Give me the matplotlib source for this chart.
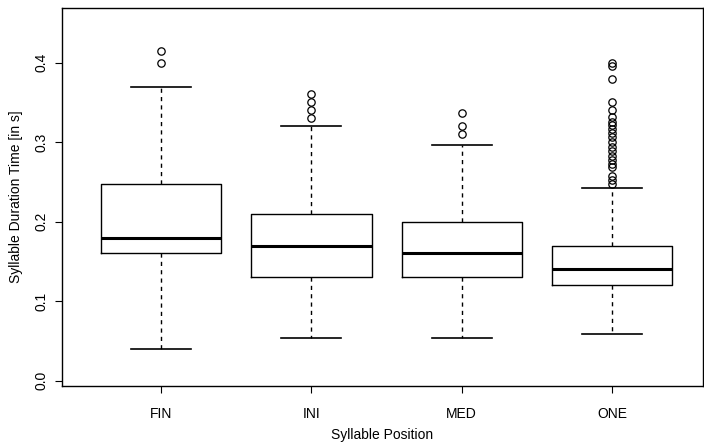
import matplotlib
matplotlib.use("Agg")
import matplotlib.pyplot as plt

# Summary statistics per syllable position (seconds)
positions = ["FIN", "INI", "MED", "ONE"]
q1 = [0.16, 0.13, 0.13, 0.12]
medians = [0.18, 0.17, 0.16, 0.14]
q3 = [0.248, 0.21, 0.20, 0.17]
whisker_low = [0.04, 0.054, 0.054, 0.059]
whisker_high = [0.37, 0.32, 0.297, 0.242]
outliers = [
    [0.40, 0.415],
    [0.33, 0.34, 0.35, 0.36],
    [0.31, 0.32, 0.337],
    [0.248, 0.252, 0.257, 0.269, 0.273, 0.278, 0.283, 0.289, 0.294, 0.30,
     0.306, 0.311, 0.316, 0.322, 0.326, 0.332, 0.34, 0.35, 0.38, 0.396, 0.40],
]

plt.rcParams["font.family"] = ["Liberation Sans", "DejaVu Sans"]

stats = []
for i, name in enumerate(positions):
    stats.append({
        "label": name,
        "q1": q1[i], "med": medians[i], "q3": q3[i],
        "whislo": whisker_low[i], "whishi": whisker_high[i],
        "fliers": outliers[i],
    })

fig = plt.figure(figsize=(7.04, 4.47), dpi=100)
ax = fig.add_axes([62 / 704, 1 - 386 / 447, 641 / 704, 378 / 447])

ax.bxp(stats, positions=[1, 2, 3, 4], widths=0.8, capwidths=0.4,
       boxprops=dict(color="black", linewidth=1.0),
       medianprops=dict(color="black", linewidth=2.2),
       whiskerprops=dict(color="black", linewidth=1.0, linestyle=(0, (3, 3))),
       capprops=dict(color="black", linewidth=1.2),
       flierprops=dict(marker="o", markerfacecolor="none",
                       markeredgecolor="black", markersize=5.3,
                       markeredgewidth=0.9))

ax.set_xlim(0.341, 4.605)
ax.set_ylim(-0.0067, 0.4688)
ax.set_yticks([0.0, 0.1, 0.2, 0.3, 0.4])
ax.set_yticklabels(["0.0", "0.1", "0.2", "0.3", "0.4"], rotation=90, va="center")
ax.tick_params(axis="both", direction="out", length=5, width=0.8,
               labelsize=10, colors="black")
ax.tick_params(axis="x", pad=10)
ax.tick_params(axis="y", pad=5)
for s in ax.spines.values():
    s.set_linewidth(1.0)

ax.set_xlabel("Syllable Position", fontsize=10, labelpad=5)
ax.set_ylabel("Syllable Duration Time [in s]", fontsize=10, labelpad=8)

fig.savefig("out.png", dpi=100)
